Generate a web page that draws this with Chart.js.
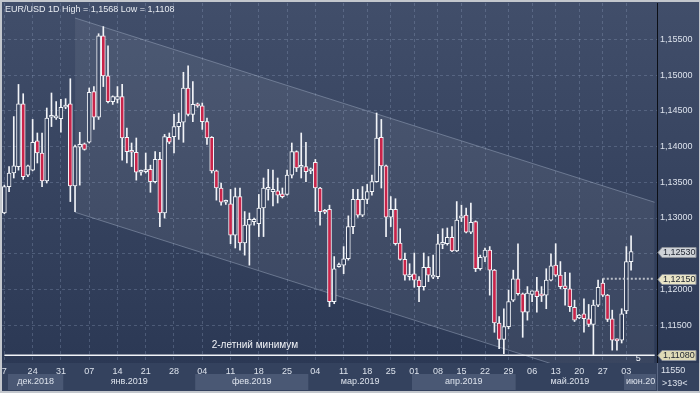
<!DOCTYPE html>
<html lang="ru">
<head>
<meta charset="UTF-8">
<title>EUR/USD 1D</title>
<script src="https://cdn.jsdelivr.net/npm/chart.js"></script>
<style>
    body {
        margin: 0;
        background: #c3c7cd;
    }
    #wrap {
        width: 700px;
        height: 393px;
    }
</style>
</head>
<body>
<div id="wrap"><canvas id="myChart" width="700" height="393"></canvas></div>
<script>
    // daily candles, 17.12.2018 .. 04.06.2019
    const openP = [
        1.1307, 1.1344, 1.1363, 1.1372, 1.1460, 1.1360, 1.1367, 1.1408, 1.1391, 1.1352,
        1.1441, 1.1440, 1.1439, 1.1455, 1.1460, 1.1345, 1.1399, 1.1404, 1.1406, 1.1477,
        1.1441, 1.1555, 1.1499, 1.1463, 1.1466, 1.1470, 1.1413, 1.1393, 1.1392, 1.1364,
        1.1365, 1.1368, 1.1351, 1.1382, 1.1307, 1.1413, 1.1414, 1.1428, 1.1434, 1.1482,
        1.1445, 1.1458, 1.1457, 1.1435, 1.1413, 1.1366, 1.1342, 1.1322, 1.1320, 1.1276,
        1.1330, 1.1265, 1.1290, 1.1295, 1.1292, 1.1314, 1.1340, 1.1337, 1.1338, 1.1334,
        1.1333, 1.1360, 1.1393, 1.1371, 1.1372, 1.1366, 1.1378, 1.1342, 1.1310, 1.1312,
        1.1183, 1.1232, 1.1234, 1.1243, 1.1288, 1.1326, 1.1304, 1.1326, 1.1337, 1.1351,
        1.1413, 1.1373, 1.1301, 1.1312, 1.1265, 1.1242, 1.1218, 1.1222, 1.1213, 1.1204,
        1.1231, 1.1217, 1.1218, 1.1263, 1.1264, 1.1273, 1.1254, 1.1300, 1.1304, 1.1280,
        1.1295, 1.1229, 1.1245, 1.1255, 1.1227, 1.1153, 1.1130, 1.1148, 1.1185, 1.1215,
        1.1194, 1.1168, 1.1193, 1.1198, 1.1192, 1.1192, 1.1213, 1.1234, 1.1220, 1.1205,
        1.1201, 1.1175, 1.1160, 1.1166, 1.1159, 1.1151, 1.1178, 1.1209, 1.1192, 1.1159,
        1.1130, 1.1129, 1.1170, 1.1239
    ];
    const highP = [
        1.1346, 1.1372, 1.1442, 1.1487, 1.1474, 1.1374, 1.1438, 1.1419, 1.1419, 1.1454,
        1.1475, 1.1463, 1.1466, 1.1467, 1.1495, 1.1402, 1.1420, 1.1405, 1.1482, 1.1484,
        1.1558, 1.1568, 1.1541, 1.1471, 1.1484, 1.1487, 1.1426, 1.1405, 1.1412, 1.1367,
        1.1391, 1.1374, 1.1393, 1.1392, 1.1417, 1.1419, 1.1445, 1.1447, 1.1504, 1.1513,
        1.1491, 1.1461, 1.1461, 1.1440, 1.1414, 1.1367, 1.1349, 1.1325, 1.1340, 1.1342,
        1.1342, 1.1309, 1.1307, 1.1300, 1.1333, 1.1356, 1.1368, 1.1367, 1.1356, 1.1342,
        1.1367, 1.1405, 1.1394, 1.1419, 1.1406, 1.1370, 1.1382, 1.1343, 1.1312, 1.1318,
        1.1246, 1.1237, 1.1260, 1.1303, 1.1340, 1.1340, 1.1344, 1.1347, 1.1360, 1.1447,
        1.1438, 1.1374, 1.1330, 1.1327, 1.1285, 1.1251, 1.1236, 1.1251, 1.1218, 1.1251,
        1.1246, 1.1248, 1.1277, 1.1285, 1.1286, 1.1288, 1.1323, 1.1318, 1.1314, 1.1321,
        1.1296, 1.1248, 1.1258, 1.1260, 1.1228, 1.1162, 1.1173, 1.1199, 1.1227, 1.1264,
        1.1195, 1.1204, 1.1198, 1.1217, 1.1204, 1.1229, 1.1250, 1.1264, 1.1239, 1.1224,
        1.1223, 1.1185, 1.1165, 1.1187, 1.1179, 1.1185, 1.1213, 1.1215, 1.1193, 1.1171,
        1.1131, 1.1173, 1.1260, 1.1275
    ];
    const lowP = [
        1.1306, 1.1337, 1.1356, 1.1367, 1.1354, 1.1358, 1.1366, 1.1377, 1.1344, 1.1349,
        1.1428, 1.1438, 1.1420, 1.1453, 1.1323, 1.1309, 1.1346, 1.1395, 1.1405, 1.1424,
        1.1438, 1.1484, 1.1461, 1.1459, 1.1461, 1.1381, 1.1377, 1.1372, 1.1353, 1.1360,
        1.1363, 1.1336, 1.1349, 1.1288, 1.1300, 1.1404, 1.1391, 1.1410, 1.1406, 1.1443,
        1.1435, 1.1455, 1.1424, 1.1403, 1.1363, 1.1325, 1.1318, 1.1319, 1.1264, 1.1258,
        1.1255, 1.1248, 1.1234, 1.1290, 1.1274, 1.1274, 1.1325, 1.1317, 1.1321, 1.1328,
        1.1332, 1.1356, 1.1365, 1.1356, 1.1351, 1.1362, 1.1309, 1.1290, 1.1306, 1.1176,
        1.1180, 1.1231, 1.1222, 1.1241, 1.1278, 1.1301, 1.1302, 1.1320, 1.1332, 1.1350,
        1.1342, 1.1274, 1.1288, 1.1262, 1.1241, 1.1213, 1.1213, 1.1203, 1.1183, 1.1199,
        1.1211, 1.1215, 1.1215, 1.1257, 1.1262, 1.1253, 1.1253, 1.1295, 1.1279, 1.1278,
        1.1225, 1.1227, 1.1239, 1.1192, 1.1140, 1.1117, 1.1110, 1.1145, 1.1183, 1.1192,
        1.1133, 1.1157, 1.1183, 1.1168, 1.1183, 1.1173, 1.1212, 1.1218, 1.1201, 1.1178,
        1.1169, 1.1155, 1.1159, 1.1140, 1.1148, 1.1108, 1.1176, 1.1190, 1.1155, 1.1115,
        1.1115, 1.1125, 1.1166, 1.1227
    ];
    const closeP = [
        1.1344, 1.1363, 1.1373, 1.1460, 1.1358, 1.1373, 1.1406, 1.1391, 1.1352, 1.1440,
        1.1442, 1.1443, 1.1455, 1.1458, 1.1345, 1.1400, 1.1403, 1.1396, 1.1476, 1.1441,
        1.1555, 1.1499, 1.1463, 1.1470, 1.1470, 1.1412, 1.1393, 1.1392, 1.1364, 1.1365,
        1.1367, 1.1351, 1.1382, 1.1307, 1.1414, 1.1406, 1.1428, 1.1434, 1.1482, 1.1445,
        1.1459, 1.1457, 1.1435, 1.1412, 1.1366, 1.1342, 1.1322, 1.1323, 1.1276, 1.1330,
        1.1265, 1.1290, 1.1298, 1.1298, 1.1314, 1.1342, 1.1342, 1.1340, 1.1332, 1.1330,
        1.1360, 1.1393, 1.1370, 1.1372, 1.1365, 1.1367, 1.1342, 1.1309, 1.1308, 1.1183,
        1.1229, 1.1234, 1.1243, 1.1288, 1.1326, 1.1304, 1.1326, 1.1337, 1.1351, 1.1412,
        1.1373, 1.1301, 1.1312, 1.1264, 1.1242, 1.1220, 1.1220, 1.1213, 1.1204, 1.1231,
        1.1220, 1.1220, 1.1264, 1.1264, 1.1273, 1.1254, 1.1297, 1.1303, 1.1280, 1.1294,
        1.1229, 1.1245, 1.1255, 1.1227, 1.1153, 1.1130, 1.1148, 1.1183, 1.1215, 1.1194,
        1.1168, 1.1195, 1.1198, 1.1190, 1.1191, 1.1213, 1.1233, 1.1220, 1.1204, 1.1201,
        1.1176, 1.1157, 1.1164, 1.1159, 1.1151, 1.1178, 1.1203, 1.1192, 1.1158, 1.1129,
        1.1128, 1.1166, 1.1239, 1.1253
    ];

    // 139 bar slots on the axis (134 candles + empty space on the right)
    const slots = Array.from({length: 139}, (_, i) => String(i + 1));

    // week labels: slot number and text
    const weekIdx  = [1, 7, 13, 19, 25, 31, 37, 43, 49, 55, 61, 67, 73, 78, 83, 88, 93, 98, 103, 108, 113, 118, 123, 128, 133];
    const weekText = ['7', '24', '31', '07', '14', '21', '28', '04', '11', '18', '25', '04', '11', '18', '25', '01', '08', '15', '22', '29', '06', '13', '20', '27', '03'];

    // month row
    const monthNames = ['дек.2018', 'янв.2019', 'фев.2019', 'мар.2019', 'апр.2019', 'май.2019', 'июн.2019'];
    const monthStart = [1, 14, 42, 66, 88, 110, 133];

    const priceTicks = [1.115, 1.12, 1.125, 1.13, 1.135, 1.14, 1.145, 1.15, 1.155];

    // trend channel (start slot, end slot)
    const channelSlots = ['16', '139'];
    const channelUpper = [1.1580, 1.1322];
    const channelLower = [1.1308, 1.1050];

    const lowLevel = 1.1108;
    const dotLevel = 1.1215;
    const lastClose = 1.1253;

    const textCol = '#dce2ec';
    const gridCol = 'rgba(150, 165, 195, 0.30)';
    const redCol = '#c9244a';
    const wickCol = '#f2f4f8';
    const fontFam = '"Liberation Sans", Arial, sans-serif';

    Chart.defaults.font.family = fontFam;
    Chart.defaults.font.size = 9;

    function bgGradient(ctx) {
        const g = ctx.createLinearGradient(0, 2, 0, 391);
        g.addColorStop(0, '#414e6a');
        g.addColorStop(1, '#2a3753');
        return g;
    }

    const fmt = v => v.toFixed(5).replace('.', ',');

    const background = {
        id: 'background',
        beforeDraw(chart) {
            const {ctx, chartArea: a, width, height} = chart;
            ctx.save();
            ctx.fillStyle = '#c3c7cd';
            ctx.fillRect(0, 0, width, height);
            ctx.fillStyle = bgGradient(ctx);
            ctx.fillRect(2, 2, width - 3, height - 4);
            ctx.fillStyle = '#34425e';
            ctx.fillRect(2, a.bottom, width - 3, height - 2 - a.bottom);
            ctx.restore();
        }
    };

    const overlay = {
        id: 'overlay',
        afterDraw(chart) {
            const {ctx, chartArea: a, scales} = chart;
            const x = scales.x, y = scales.y;
            const half = (a.right - a.left) / slots.length / 2;
            ctx.save();
            ctx.font = '9px ' + fontFam;
            ctx.textBaseline = 'middle';

            // month row
            ctx.save();
            ctx.beginPath();
            ctx.rect(a.left, a.bottom, a.right - a.left - 1, 30);
            ctx.clip();
            monthNames.forEach((m, k) => {
                const x1 = x.getPixelForValue(monthStart[k] - 1) - half;
                const x2 = k < monthNames.length - 1 ? x.getPixelForValue(monthStart[k + 1] - 1) - half : a.right;
                if (k % 2 === 0) {
                    ctx.fillStyle = '#4a5874';
                    ctx.fillRect(x1 + (k === 0 ? 6 : 0), 374, x2 - x1 - (k === 0 ? 6 : 0), 16);
                }
                ctx.fillStyle = textCol;
                const w = ctx.measureText(m).width;
                if (w < x2 - x1 - 4) {
                    ctx.textAlign = 'center';
                    ctx.fillText(m, (x1 + x2) / 2 + (k === 0 ? 3 : 0), 382);
                } else {
                    ctx.textAlign = 'left';
                    ctx.fillText(m, x1 + 2, 382);
                }
            });
            ctx.restore();

            // title
            ctx.textAlign = 'left';
            ctx.fillStyle = '#e8ecf2';
            ctx.fillText('EUR/USD 1D High = 1,1568 Low = 1,1108', 5, 10);

            // 2-year low note
            ctx.font = '10px ' + fontFam;
            ctx.fillStyle = '#f2f4f8';
            ctx.fillText('2-летний минимум', x.getPixelForValue(44), y.getPixelForValue(lowLevel) - 10);
            ctx.font = '9px ' + fontFam;
            ctx.fillText('5', x.getPixelForValue(134), y.getPixelForValue(lowLevel) + 3);

            // price tags on the right axis
            const tags = [[lastClose, '#cfd3d8'], [dotLevel, '#e8e4c6'], [lowLevel, '#dedab6']];
            tags.forEach(([v, c]) => {
                const py = Math.round(y.getPixelForValue(v)) + 0.5;
                const l = a.right + 1;
                ctx.beginPath();
                ctx.moveTo(l, py);
                ctx.lineTo(l + 4, py - 5);
                ctx.lineTo(l + 38, py - 5);
                ctx.lineTo(l + 38, py + 5);
                ctx.lineTo(l + 4, py + 5);
                ctx.closePath();
                ctx.fillStyle = c;
                ctx.fill();
                ctx.strokeStyle = '#8d929b';
                ctx.lineWidth = 1;
                ctx.stroke();
                ctx.fillStyle = '#1e2430';
                ctx.fillText(fmt(v), l + 5, py + 0.5);
            });

            // bottom-right corner
            ctx.strokeStyle = '#5b6884';
            ctx.beginPath();
            ctx.moveTo(a.right + 0.5, a.bottom);
            ctx.lineTo(a.right + 0.5, 391);
            ctx.stroke();
            ctx.fillStyle = textCol;
            ctx.fillText('11550', a.right + 4, 371);
            ctx.fillText('>139<', a.right + 5, 384);
            ctx.restore();
        }
    };

    const ctx = document.getElementById('myChart').getContext('2d');
    const myChart = new Chart(ctx, {
        type: 'bar',
        data: {
            labels: slots,
            datasets: [
                {
                    type: 'line',
                    data: channelSlots.map((s, i) => ({x: s, y: channelUpper[i]})),
                    borderColor: 'rgba(165, 177, 200, 0.45)',
                    borderWidth: 1,
                    pointRadius: 0,
                    fill: '+1',
                    backgroundColor: 'rgba(255, 255, 255, 0.065)',
                    order: 10
                },
                {
                    type: 'line',
                    data: channelSlots.map((s, i) => ({x: s, y: channelLower[i]})),
                    borderColor: 'rgba(165, 177, 200, 0.45)',
                    borderWidth: 1,
                    pointRadius: 0,
                    fill: false,
                    order: 10
                },
                {
                    // wicks
                    data: lowP.map((l, i) => [l, highP[i]]),
                    backgroundColor: wickCol,
                    borderWidth: 0,
                    barThickness: 1,
                    grouped: false,
                    order: 3
                },
                {
                    // bodies
                    data: openP.map((o, i) => [o, closeP[i]]),
                    backgroundColor: c => closeP[c.dataIndex] < openP[c.dataIndex] ? redCol : bgGradient(c.chart.ctx),
                    borderColor: wickCol,
                    borderWidth: 1,
                    borderSkipped: false,
                    barThickness: 4,
                    minBarLength: 2,
                    grouped: false,
                    order: 2
                },
                {
                    type: 'line',
                    data: [{x: slots[0], y: lowLevel}, {x: slots[slots.length - 1], y: lowLevel}],
                    borderColor: '#f2f4f8',
                    borderWidth: 1.5,
                    pointRadius: 0,
                    order: 1
                },
                {
                    type: 'line',
                    data: [{x: '128', y: dotLevel}, {x: slots[slots.length - 1], y: dotLevel}],
                    borderColor: '#b9bec8',
                    borderWidth: 2,
                    borderDash: [2, 2],
                    pointRadius: 0,
                    order: 1
                }
            ]
        },
        options: {
            responsive: false,
            animation: false,
            events: [],
            layout: { padding: { left: 2, top: 3, right: 0, bottom: 0 } },
            plugins: {
                legend: { display: false },
                tooltip: { enabled: false }
            },
            scales: {
                x: {
                    offset: true,
                    afterBuildTicks: s => { s.ticks = weekIdx.map(i => ({value: i - 1})); },
                    afterFit: s => { s.height = 30; s.paddingLeft = 0; s.paddingRight = 0; },
                    ticks: {
                        autoSkip: false,
                        maxRotation: 0,
                        padding: 3,
                        color: textCol,
                        callback: (v, i) => weekText[i]
                    },
                    grid: { offset: false, color: gridCol, drawTicks: false },
                    border: { display: false, dash: [3, 3] }
                },
                y: {
                    position: 'right',
                    min: 1.1097,
                    max: 1.1601,
                    afterBuildTicks: s => { s.ticks = priceTicks.map(v => ({value: v})); },
                    afterFit: s => { s.width = 43; s.paddingTop = 0; s.paddingBottom = 0; },
                    ticks: {
                        padding: 3,
                        color: textCol,
                        callback: v => fmt(v)
                    },
                    grid: { color: gridCol, drawTicks: false },
                    border: { display: true, color: '#0c0f16', width: 1, dash: [3, 3] }
                }
            }
        },
        plugins: [background, overlay]
    });
</script>
</body>
</html>
